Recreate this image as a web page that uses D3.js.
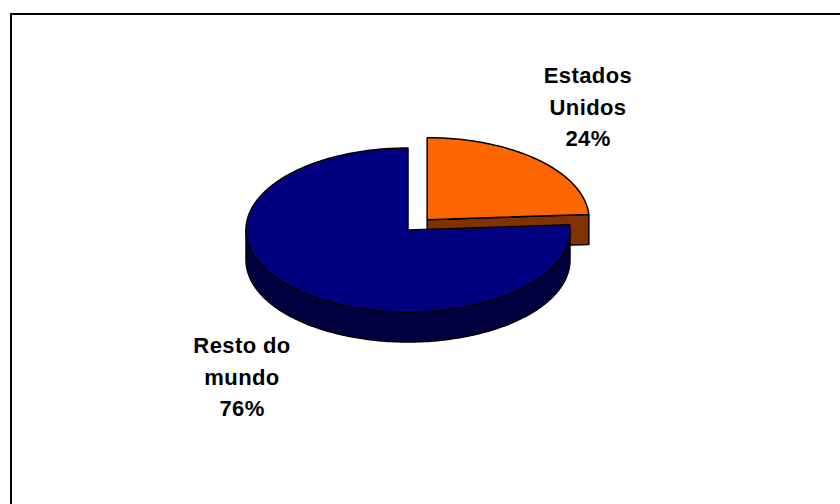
<!DOCTYPE html>
<html>
<head>
<meta charset="utf-8">
<script src="https://cdn.jsdelivr.net/npm/d3@7"></script>
<style>
  body { margin: 0; background: #fff; }
  text { font-family: "Liberation Sans", Arial, sans-serif; font-weight: bold; }
</style>
</head>
<body>
<svg id="chart" width="840" height="504"></svg>
<script>
// dados
const categories = ["Estados Unidos", "Resto do mundo"];
const values = [24, 76];
const labelLines = [["Estados", "Unidos", "24%"], ["Resto do", "mundo", "76%"]];
const topColors = ["#ff6600", "#000080"];
const sideColors = ["#803300", "#000040"];

const W = 840, H = 504;
const cx = 408, cy = 230;   // centro do pie
const rx = 162, ry = 82;    // elipse (pie inclinado)
const depth = 30;           // altura do 3D
const explode = [28, 0];    // fatia destacada

const svg = d3.select("#chart");

// borda do gráfico
svg.append("rect")
  .attr("x", 11).attr("y", 14)
  .attr("width", W + 20).attr("height", H + 20)
  .attr("fill", "none").attr("stroke", "#000").attr("stroke-width", 2);

const pie = d3.pie().sort(null).value(d => d);
const arcs = pie(values).map((a, i) => {
  const mid = (a.startAngle + a.endAngle) / 2;
  return {
    ...a, i,
    ox: cx + explode[i] * Math.sin(mid),
    oy: cy - explode[i] * Math.cos(mid) * ry / rx
  };
});

function pt(d, a, dz) {
  return [d.ox + rx * Math.sin(a), d.oy - ry * Math.cos(a) + (dz || 0)];
}

// arco da elipse como lista de pontos
function rim(d, a0, a1, dz) {
  const n = Math.max(2, Math.ceil(Math.abs(a1 - a0) / 0.02));
  return d3.range(n + 1).map(k => pt(d, a0 + (a1 - a0) * k / n, dz));
}

const line = d3.line();
const g = svg.append("g")
  .attr("stroke", "#000").attr("stroke-width", 1.5).attr("stroke-linejoin", "round");

function drawSlice(d) {
  // face lateral no fim da fatia (visível quando virada para a frente)
  if (d.endAngle > 0 && d.endAngle < Math.PI) {
    const p = pt(d, d.endAngle);
    g.append("path")
      .attr("d", line([[d.ox, d.oy], p, [p[0], p[1] + depth], [d.ox, d.oy + depth]]) + "Z")
      .attr("fill", sideColors[d.i]);
  }
  // face curva da frente
  const f0 = Math.max(d.startAngle, Math.PI / 2);
  const f1 = Math.min(d.endAngle, 3 * Math.PI / 2);
  if (f1 > f0) {
    const top = rim(d, f0, f1, 0);
    const bot = rim(d, f1, f0, depth);
    g.append("path")
      .attr("d", line(top.concat(bot)) + "Z")
      .attr("fill", sideColors[d.i]);
  }
  // tampa
  const pts = [[d.ox, d.oy]].concat(rim(d, d.startAngle, d.endAngle, 0));
  g.append("path")
    .attr("d", line(pts) + "Z")
    .attr("fill", topColors[d.i]);
}

// de trás para frente
arcs.forEach(drawSlice);

// rótulos
const labelPos = [[588, 83], [242, 353]];
const lineGap = 31.5;
labelLines.forEach((lines, i) => {
  const t = svg.append("text")
    .attr("text-anchor", "middle")
    .attr("font-size", 22)
    .attr("letter-spacing", 0.4)
    .attr("fill", "#000");
  lines.forEach((s, k) => {
    t.append("tspan")
      .attr("x", labelPos[i][0])
      .attr("y", labelPos[i][1] + k * lineGap)
      .text(s);
  });
});
</script>
</body>
</html>
